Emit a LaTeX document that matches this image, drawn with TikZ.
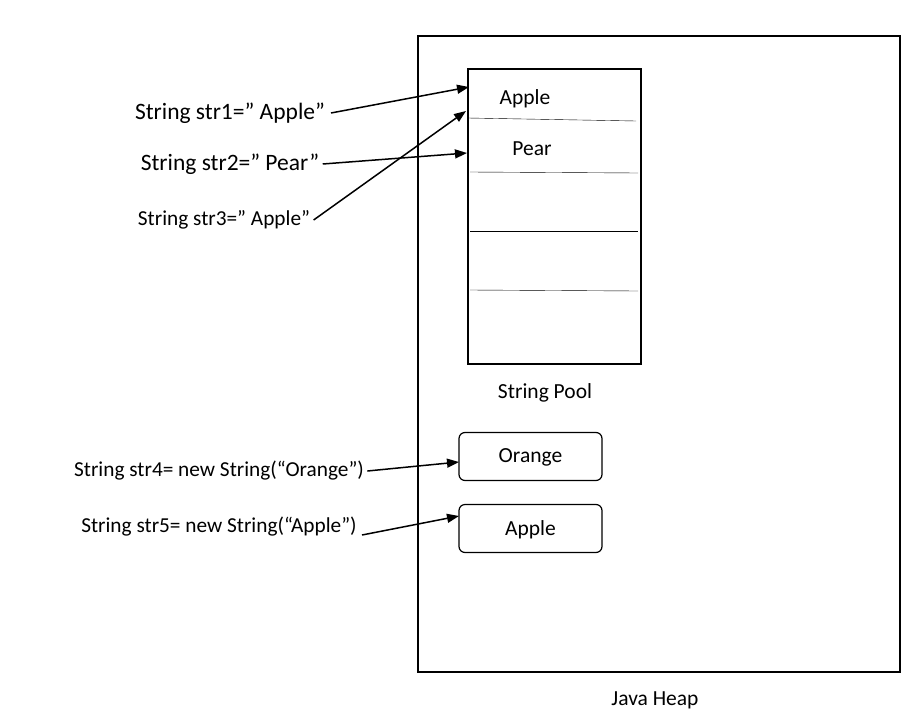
\documentclass[tikz,border=0pt]{standalone}
\usepackage{fontspec}
\setmainfont{Carlito}
\usetikzlibrary{arrows.meta,positioning}
\tikzset{
	ptr/.style={line width=1.5pt,-{Triangle[length=12pt,width=9pt]}},
	big/.style={font=\fontsize{21.5}{25}\selectfont},
	label/.style={font=\fontsize{23.5}{27}\selectfont},
	small/.style={font=\fontsize{21.3}{25}\selectfont},
	objbox/.style={draw,line width=1.2pt,rounded corners=6pt,minimum width=143pt,minimum height=48pt,text depth=1pt}
}
\begin{document}
\begin{tikzpicture}[x=1pt,y=-1pt]
		\useasboundingbox (0,0) rectangle (901,725);
		% heap and pool
		\draw[line width=1.5pt] (418,36) rectangle (900,672);
		\node[big] (heap) at (655,700) {Java Heap};
		\draw[line width=1.3pt] (468,69) rectangle (641,364);
		\draw (468,118)--(636,121);
		\draw (470,172)--(638,173);
		\draw (470,231)--(638,231);
		\draw (470,290)--(638,291);
		\node[big] (p1) at (525,99) {Apple};
		\node[big] (p2) at (532,149) {Pear};
		\node[big] (pool) at (545,393) {String Pool};
		\coordinate (t1) at (469,87);
		\coordinate (t2) at (467,153);
		\coordinate (t3) at (466,111);
		% heap objects
		\node[objbox,big] (orange) at (530.5,456.5) {Orange};
		\node[objbox,big] (apple) at (530.5,528.5) {Apple};
		\coordinate (t4) at (459,462);
		\coordinate (t5) at (459,516);
		% references
		\node[label] (s1) at (230,113) {String str1=” Apple”};
		\node[label] (s2) at (230,164) {String str2=” Pear”};
		\node[small] (s3) at (224,220) {String str3=” Apple”};
		\node[small] (s4) at (219,471) {String str4= new String(“Orange”)};
		\node[small] (s5) at (219,527) {String str5= new String(“Apple”)};
		\draw[ptr] (331,113)--(t1);
		\draw[ptr] (s2.east)--(t2);
		\draw[ptr] (s3.east)--(t3);
		\draw[ptr] (s4.east)--(t4);
		\draw[ptr] (362,535)--(t5);
		\end{tikzpicture}
\end{document}
